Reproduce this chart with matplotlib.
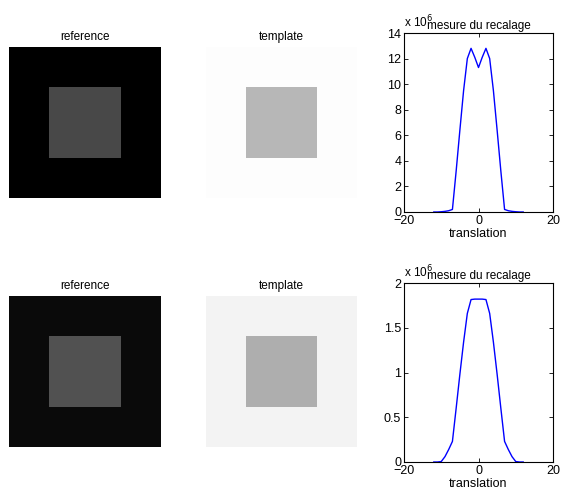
import numpy as np
import matplotlib.pyplot as plt

plt.rcParams['font.family'] = ['Liberation Sans', 'DejaVu Sans']

# image parameters (grey levels 0-255)
img_size = 64
square_start = 17
square_size = 30
ref_bg = [0, 10]
ref_fg = [72, 82]
tpl_bg = [253, 243]
tpl_fg = [183, 174]

# registration measure (x 10^6) vs translation
translation = [-12, -11, -10, -9, -8, -7, -6, -5, -4, -3, -2, -1, 0,
               1, 2, 3, 4, 5, 6, 7, 8, 9, 10, 11, 12]
mesure_1 = [0.0, 0.0, 0.02, 0.05, 0.1, 0.2, 3.2, 6.4, 9.5, 12.0, 12.8, 12.1, 11.3,
            12.1, 12.8, 12.0, 9.5, 6.4, 3.2, 0.2, 0.1, 0.05, 0.02, 0.0, 0.0]
mesure_2 = [0.0, 0.0, 0.005, 0.06, 0.14, 0.23, 0.6, 0.98, 1.34, 1.66, 1.815, 1.82, 1.82,
            1.82, 1.815, 1.66, 1.34, 0.98, 0.6, 0.23, 0.14, 0.06, 0.005, 0.0, 0.0]
yticks_1 = [0, 2, 4, 6, 8, 10, 12, 14]
yticks_2 = [0, 0.5, 1, 1.5, 2]
ytick_labels_2 = ['0', '0.5', '1', '1.5', '2']


def make_img(bg, fg):
    img = np.full((img_size, img_size), bg, dtype=float)
    s = slice(square_start, square_start + square_size)
    img[s, s] = fg
    return img


fig = plt.figure(figsize=(5.62, 4.91), dpi=100)
fs = 8.5
fs_tick = 9

W, H = 562, 491


def ax_px(x0, y0, x1, y1):
    return fig.add_axes([x0 / W, 1 - y1 / H, (x1 - x0) / W, (y1 - y0) / H])


rows = [(47, 198, 33, 212), (296, 447, 283, 462)]
curves = [mesure_1, mesure_2]
yticks = [(yticks_1, [str(v) for v in yticks_1], 14), (yticks_2, ytick_labels_2, 2)]

for r, (iy0, iy1, py0, py1) in enumerate(rows):
    ax = ax_px(9, iy0, 160, iy1)
    ax.imshow(make_img(ref_bg[r], ref_fg[r]), cmap='gray', vmin=0, vmax=255,
              interpolation='nearest')
    ax.set_title('reference', fontsize=fs, pad=5)
    ax.axis('off')

    ax = ax_px(206, iy0, 357, iy1)
    ax.imshow(make_img(tpl_bg[r], tpl_fg[r]), cmap='gray', vmin=0, vmax=255,
              interpolation='nearest')
    ax.set_title('template', fontsize=fs, pad=5)
    ax.axis('off')

    ax = ax_px(404, py0, 553, py1)
    ax.plot(translation, curves[r], color='blue', lw=1)
    ax.set_xlim(-20, 20)
    ticks, labels, top = yticks[r]
    ax.set_ylim(0, top)
    ax.set_xticks([-20, 0, 20])
    ax.set_xticklabels(['\u221220', '0', '20'])
    ax.set_yticks(ticks)
    ax.set_yticklabels(labels)
    ax.tick_params(direction='in', length=3, width=0.6, labelsize=fs_tick,
                   top=True, right=True, pad=2)
    for sp in ax.spines.values():
        sp.set_linewidth(0.8)
    ax.set_xlabel('translation', fontsize=fs_tick, labelpad=1)
    ax.set_title('mesure du recalage', fontsize=fs, pad=3)
    ax.text(0.0, 1.015, 'x 10$^{6}$', transform=ax.transAxes, fontsize=fs,
            ha='left', va='bottom')

fig.savefig('out.png', dpi=100)
